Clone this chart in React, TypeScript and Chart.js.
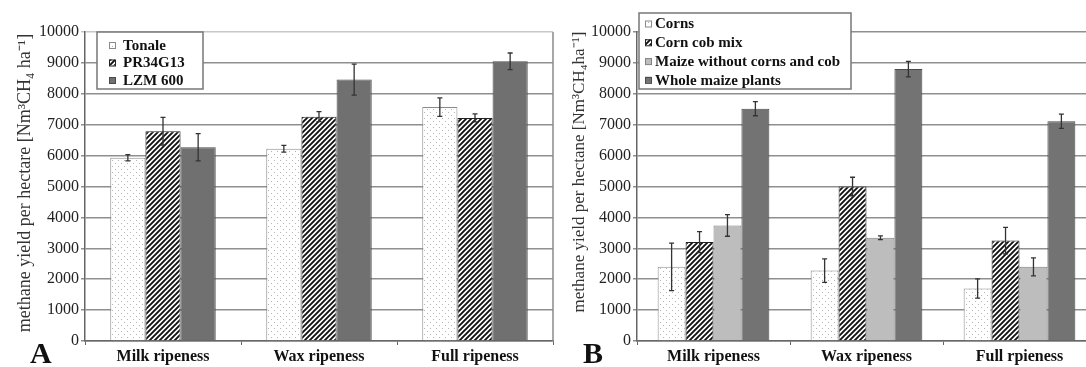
import React, { useEffect, useRef } from 'react';
import { Chart, registerables } from 'chart.js';

Chart.register(...registerables);

// ---------- data ----------
const categoriesA = ['Milk ripeness', 'Wax ripeness', 'Full ripeness'];
const tonale = [5930, 6220, 7570];
const tonaleErr = [100, 110, 300];
const pr34g13 = [6790, 7260, 7220];
const pr34g13Err = [450, 160, 130];
const lzm600 = [6270, 8460, 9050];
const lzm600Err = [440, 500, 270];

const categoriesB = ['Milk ripeness', 'Wax ripeness', 'Full rpieness'];
const corns = [2400, 2280, 1700];
const cornsErr = [770, 380, 310];
const cornCobMix = [3200, 5000, 3250];
const cornCobMixErr = [340, 300, 430];
const maizeWithout = [3740, 3340, 2400];
const maizeWithoutErr = [350, 60, 290];
const wholeMaize = [7520, 8800, 7110];
const wholeMaizeErr = [230, 250, 230];

const yMin = 0;
const yMax = 10000;
const yStep = 1000;

const titleA = 'methane yield per hectare [Nm³CH₄ ha⁻¹]';
const titleB = 'methane yield per hectane [Nm³CH₄ha⁻¹]';

// ---------- patterns ----------
function dotPattern(): CanvasPattern | string {
  const c = document.createElement('canvas');
  c.width = 6; c.height = 6;
  const g = c.getContext('2d');
  if (!g) return '#fff';
  g.fillStyle = '#ffffff';
  g.fillRect(0, 0, 6, 6);
  g.fillStyle = '#b4b4b4';
  g.fillRect(1, 1, 1, 1);
  g.fillRect(4, 4, 1, 1);
  return g.createPattern(c, 'repeat') || '#fff';
}

function hatchPattern(): CanvasPattern | string {
  const s = 5;
  const c = document.createElement('canvas');
  c.width = s; c.height = s;
  const g = c.getContext('2d');
  if (!g) return '#000';
  g.fillStyle = '#ffffff';
  g.fillRect(0, 0, s, s);
  g.strokeStyle = '#111111';
  g.lineWidth = 1.9;
  g.beginPath();
  g.moveTo(0, s); g.lineTo(s, 0);
  g.moveTo(-1, 1); g.lineTo(1, -1);
  g.moveTo(s - 1, s + 1); g.lineTo(s + 1, s - 1);
  g.stroke();
  return g.createPattern(c, 'repeat') || '#000';
}

// ---------- plugins ----------
const errorBarsPlugin = {
  id: 'errorBars',
  afterDatasetsDraw(chart: any) {
    const ctx = chart.ctx;
    const y = chart.scales.y;
    chart.data.datasets.forEach((ds: any, i: number) => {
      const meta = chart.getDatasetMeta(i);
      meta.data.forEach((bar: any, j: number) => {
        const v = ds.data[j];
        const e = ds.errors[j];
        const x = bar.x;
        const yt = y.getPixelForValue(v + e);
        const yb = y.getPixelForValue(v - e);
        ctx.save();
        ctx.strokeStyle = '#333';
        ctx.lineWidth = 1.3;
        ctx.beginPath();
        ctx.moveTo(x, yt); ctx.lineTo(x, yb);
        ctx.moveTo(x - 2.5, yt); ctx.lineTo(x + 2.5, yt);
        ctx.moveTo(x - 2.5, yb); ctx.lineTo(x + 2.5, yb);
        ctx.stroke();
        ctx.restore();
      });
    });
  },
};

const decorPlugin = {
  id: 'decor',
  afterDraw(chart: any, _args: any, opts: any) {
    const ctx = chart.ctx;
    const area = chart.chartArea;
    ctx.save();
    if (opts.rightBorder) {
      ctx.strokeStyle = '#8a8a8a';
      ctx.lineWidth = 1.5;
      ctx.beginPath();
      ctx.moveTo(area.right, area.top);
      ctx.lineTo(area.right, area.bottom);
      ctx.stroke();
    }
    // y title
    ctx.save();
    ctx.translate(opts.titleX, opts.titleY);
    ctx.rotate(-Math.PI / 2);
    ctx.font = opts.titleFont;
    ctx.fillStyle = '#333';
    ctx.textAlign = 'center';
    ctx.textBaseline = 'middle';
    ctx.fillText(opts.title, 0, 0);
    ctx.restore();
    // panel letter
    ctx.font = 'bold 30px "Liberation Serif", serif';
    ctx.fillStyle = '#111';
    ctx.textAlign = 'left';
    ctx.textBaseline = 'alphabetic';
    ctx.fillText(opts.letter, opts.letterX, opts.letterY);
    // legend box
    const L = opts.legend;
    ctx.fillStyle = '#ffffff';
    ctx.fillRect(L.x, L.y, L.w, L.h);
    ctx.strokeStyle = '#777';
    ctx.lineWidth = 1.5;
    ctx.strokeRect(L.x, L.y, L.w, L.h);
    ctx.font = L.font;
    ctx.textBaseline = 'middle';
    chart.data.datasets.forEach((ds: any, i: number) => {
      const cy = L.firstY + i * L.lineH;
      ctx.fillStyle = ds.backgroundColor;
      ctx.fillRect(L.markerX, cy - 3, 6, 6);
      ctx.strokeStyle = ds.borderColor;
      ctx.lineWidth = 1;
      ctx.strokeRect(L.markerX + 0.5, cy - 2.5, 6, 6);
      ctx.fillStyle = '#111';
      ctx.fillText(ds.label, L.textX, cy + 1);
    });
    ctx.restore();
  },
};

function makeOptions(
  yWidth: number,
  padRight: number,
  catPct: number,
  decor: any,
  lightTop: boolean
): any {
  return {
    responsive: false,
    animation: false,
    devicePixelRatio: 1,
    layout: { padding: { top: 32, right: padRight, left: 0, bottom: 0 } },
    datasets: { bar: { barPercentage: 1, categoryPercentage: catPct } },
    plugins: {
      legend: { display: false },
      tooltip: { enabled: false },
      decor,
    },
    scales: {
      x: {
        type: 'category',
        offset: true,
        afterFit: (s: any) => { s.height = 26; },
        grid: {
          display: true,
          drawOnChartArea: false,
          drawTicks: true,
          tickLength: 4,
          offset: true,
          color: '#666',
        },
        border: { display: true, color: '#666', width: 1.5 },
        ticks: {
          color: '#111',
          padding: 2,
          font: { family: '"Liberation Serif", serif', size: 16, weight: 'bold' },
          maxRotation: 0,
          autoSkip: false,
        },
      },
      y: {
        min: yMin,
        max: yMax,
        afterFit: (s: any) => { s.width = yWidth; },
        grid: {
          color: (ctx: any) => (lightTop && ctx.tick && ctx.tick.value === yMax ? '#c8c8c8' : '#8f8f8f'),
          lineWidth: 1.5,
          tickLength: 4,
          drawTicks: true,
        },
        border: { display: true, color: '#666', width: 1.5 },
        ticks: {
          stepSize: yStep,
          color: '#222',
          padding: 2,
          font: { family: '"Liberation Serif", serif', size: 16 },
          callback: (v: any) => String(v),
        },
      },
    },
  };
}

export default function App() {
  const refA = useRef<HTMLCanvasElement | null>(null);
  const refB = useRef<HTMLCanvasElement | null>(null);

  useEffect(() => {
    document.body.style.overflow = 'hidden';
    const dots = dotPattern();
    const hatch = hatchPattern();

    const chartA = new Chart(refA.current as HTMLCanvasElement, {
      type: 'bar',
      data: {
        labels: categoriesA,
        datasets: [
          { label: 'Tonale', data: tonale, errors: tonaleErr, backgroundColor: dots, borderColor: '#8a8a8a', borderWidth: 1 } as any,
          { label: 'PR34G13', data: pr34g13, errors: pr34g13Err, backgroundColor: hatch, borderColor: '#222', borderWidth: 1 } as any,
          { label: 'LZM 600', data: lzm600, errors: lzm600Err, backgroundColor: '#707070', borderColor: '#4a4a4a', borderWidth: 1 } as any,
        ],
      },
      options: makeOptions(85, 7, 0.676, {
        rightBorder: true,
        title: titleA,
        titleX: 25,
        titleY: 183,
        titleFont: '18px "Liberation Serif", serif',
        letter: 'A',
        letterX: 30,
        letterY: 363,
        legend: { x: 97, y: 32, w: 106, h: 57, markerX: 109, textX: 123, firstY: 45, lineH: 17.5, font: 'bold 15px "Liberation Serif", serif' },
      }, true),
      plugins: [errorBarsPlugin, decorPlugin],
    });

    const offB = 560;
    const chartB = new Chart(refB.current as HTMLCanvasElement, {
      type: 'bar',
      data: {
        labels: categoriesB,
        datasets: [
          { label: 'Corns', data: corns, errors: cornsErr, backgroundColor: dots, borderColor: '#8a8a8a', borderWidth: 1 } as any,
          { label: 'Corn cob mix', data: cornCobMix, errors: cornCobMixErr, backgroundColor: hatch, borderColor: '#222', borderWidth: 1 } as any,
          { label: 'Maize without corns and cob', data: maizeWithout, errors: maizeWithoutErr, backgroundColor: '#bdbdbd', borderColor: '#808080', borderWidth: 1 } as any,
          { label: 'Whole maize plants', data: wholeMaize, errors: wholeMaizeErr, backgroundColor: '#737373', borderColor: '#4a4a4a', borderWidth: 1 } as any,
        ],
      },
      options: makeOptions(77, 9, 0.73, {
        rightBorder: false,
        title: titleB,
        titleX: 580 - offB,
        titleY: 172,
        titleFont: '17px "Liberation Serif", serif',
        letter: 'B',
        letterX: 583 - offB,
        letterY: 363,
        legend: { x: 639 - offB, y: 13, w: 212, h: 76, markerX: 645 - offB, textX: 655 - offB, firstY: 23.5, lineH: 18.8, font: 'bold 15px "Liberation Serif", serif' },
      }, false),
      plugins: [errorBarsPlugin, decorPlugin],
    });

    return () => {
      chartA.destroy();
      chartB.destroy();
    };
  }, []);

  return (
    <div style={{ position: 'fixed', left: 0, top: 0, width: 1086, height: 367, overflow: 'hidden', background: '#fff' }}>
      <canvas ref={refA} width={560} height={367} style={{ position: 'absolute', left: 0, top: 0 }} />
      <canvas ref={refB} width={545} height={367} style={{ position: 'absolute', left: 560, top: 0 }} />
    </div>
  );
}
